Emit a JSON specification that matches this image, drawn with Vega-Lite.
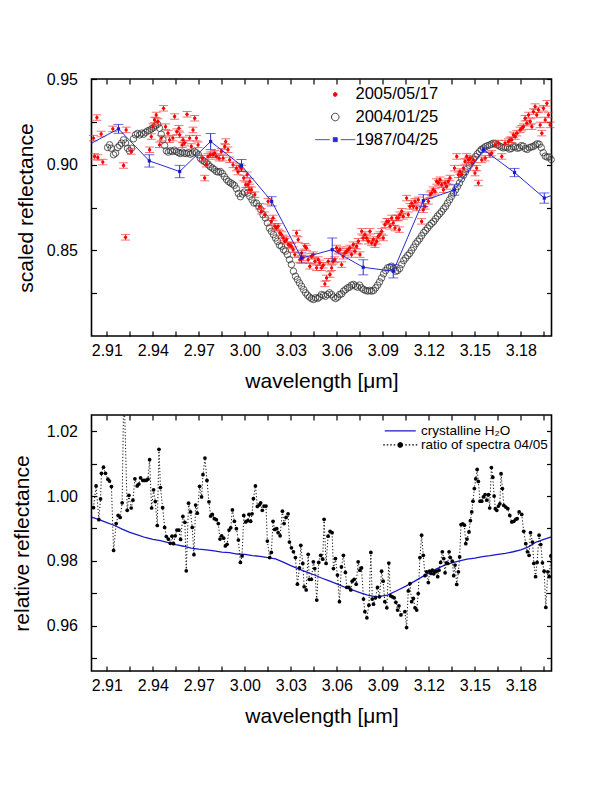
{
"$schema": "https://vega.github.io/schema/vega-lite/v6.json",
"background": "white",
"padding": {"left": 10.5, "top": 70, "right": 5, "bottom": 5},
"config": {
 "font": "Liberation Sans",
 "view": {"stroke": "black", "strokeWidth": 1.6},
 "axis": {"domain": false, "grid": false, "tickColor": "black", "tickSize": -5, "tickWidth": 1.2, "labelColor": "black", "labelFont": "Liberation Sans", "labelFontSize": 16, "titleFont": "Liberation Sans", "titleFontSize": 21, "titleFontWeight": "normal", "titleColor": "black", "labelOverlap": false, "labelFlush": false},
 "legend": {"labelFont": "Liberation Sans", "labelColor": "black"}
},
"datasets": {
 "gray": [
{"wl":2.9105,"r":0.9100},{"wl":2.9118,"r":0.9116},{"wl":2.9128,"r":0.9096},{"wl":2.9144,"r":0.9058},{"wl":2.9157,"r":0.9067},{"wl":2.9170,"r":0.9100},{"wl":2.9183,"r":0.9112},{"wl":2.9196,"r":0.9126},{"wl":2.9209,"r":0.9145},{"wl":2.9222,"r":0.9126},{"wl":2.9235,"r":0.9096},{"wl":2.9248,"r":0.9081},{"wl":2.9261,"r":0.9096},{"wl":2.9274,"r":0.9151},{"wl":2.9287,"r":0.9174},{"wl":2.9300,"r":0.9182},{"wl":2.9314,"r":0.9174},{"wl":2.9327,"r":0.9184},{"wl":2.9340,"r":0.9178},{"wl":2.9353,"r":0.9189},{"wl":2.9366,"r":0.9197},{"wl":2.9379,"r":0.9201},{"wl":2.9392,"r":0.9209},{"wl":2.9405,"r":0.9217},{"wl":2.9418,"r":0.9228},{"wl":2.9431,"r":0.9236},{"wl":2.9444,"r":0.9213},{"wl":2.9455,"r":0.9178},{"wl":2.9466,"r":0.9145},{"wl":2.9477,"r":0.9112},{"wl":2.9488,"r":0.9081},{"wl":2.9501,"r":0.9073},{"wl":2.9514,"r":0.9081},{"wl":2.9527,"r":0.9077},{"wl":2.9540,"r":0.9085},{"wl":2.9553,"r":0.9077},{"wl":2.9566,"r":0.9071},{"wl":2.9579,"r":0.9065},{"wl":2.9592,"r":0.9073},{"wl":2.9605,"r":0.9067},{"wl":2.9618,"r":0.9065},{"wl":2.9631,"r":0.9069},{"wl":2.9644,"r":0.9061},{"wl":2.9658,"r":0.9067},{"wl":2.9671,"r":0.9077},{"wl":2.9684,"r":0.9069},{"wl":2.9697,"r":0.9058},{"wl":2.9710,"r":0.9038},{"wl":2.9723,"r":0.9026},{"wl":2.9736,"r":0.9019},{"wl":2.9749,"r":0.9011},{"wl":2.9762,"r":0.8999},{"wl":2.9775,"r":0.8988},{"wl":2.9788,"r":0.8980},{"wl":2.9801,"r":0.8972},{"wl":2.9814,"r":0.8960},{"wl":2.9827,"r":0.8957},{"wl":2.9840,"r":0.8960},{"wl":2.9853,"r":0.8949},{"wl":2.9866,"r":0.8931},{"wl":2.9880,"r":0.8914},{"wl":2.9893,"r":0.8902},{"wl":2.9906,"r":0.8894},{"wl":2.9919,"r":0.8887},{"wl":2.9932,"r":0.8879},{"wl":2.9945,"r":0.8860},{"wl":2.9958,"r":0.8832},{"wl":2.9971,"r":0.8813},{"wl":2.9984,"r":0.8829},{"wl":2.9997,"r":0.8840},
{"wl":3.0017,"r":0.8834},{"wl":3.0032,"r":0.8815},{"wl":3.0047,"r":0.8795},{"wl":3.0060,"r":0.8776},{"wl":3.0075,"r":0.8776},{"wl":3.0091,"r":0.8757},{"wl":3.0104,"r":0.8737},{"wl":3.0119,"r":0.8708},{"wl":3.0134,"r":0.8689},{"wl":3.0147,"r":0.8660},{"wl":3.0160,"r":0.8630},{"wl":3.0173,"r":0.8611},{"wl":3.0187,"r":0.8592},{"wl":3.0200,"r":0.8572},{"wl":3.0213,"r":0.8553},{"wl":3.0226,"r":0.8530},{"wl":3.0239,"r":0.8524},{"wl":3.0252,"r":0.8504},{"wl":3.0265,"r":0.8495},{"wl":3.0278,"r":0.8475},{"wl":3.0291,"r":0.8446},{"wl":3.0304,"r":0.8417},{"wl":3.0317,"r":0.8378},{"wl":3.0330,"r":0.8349},{"wl":3.0343,"r":0.8330},{"wl":3.0356,"r":0.8310},{"wl":3.0370,"r":0.8291},{"wl":3.0383,"r":0.8271},{"wl":3.0396,"r":0.8252},{"wl":3.0409,"r":0.8238},{"wl":3.0422,"r":0.8227},{"wl":3.0435,"r":0.8219},{"wl":3.0448,"r":0.8213},{"wl":3.0461,"r":0.8223},{"wl":3.0474,"r":0.8219},{"wl":3.0487,"r":0.8227},{"wl":3.0500,"r":0.8242},{"wl":3.0513,"r":0.8238},{"wl":3.0526,"r":0.8232},{"wl":3.0539,"r":0.8242},{"wl":3.0552,"r":0.8252},{"wl":3.0566,"r":0.8242},{"wl":3.0579,"r":0.8227},{"wl":3.0592,"r":0.8219},{"wl":3.0605,"r":0.8227},{"wl":3.0618,"r":0.8242},{"wl":3.0631,"r":0.8246},{"wl":3.0644,"r":0.8262},{"wl":3.0657,"r":0.8271},{"wl":3.0670,"r":0.8281},{"wl":3.0683,"r":0.8285},{"wl":3.0696,"r":0.8297},{"wl":3.0709,"r":0.8301},{"wl":3.0722,"r":0.8291},{"wl":3.0735,"r":0.8285},{"wl":3.0748,"r":0.8297},{"wl":3.0761,"r":0.8281},{"wl":3.0775,"r":0.8271},{"wl":3.0788,"r":0.8266},{"wl":3.0801,"r":0.8262},{"wl":3.0814,"r":0.8266},{"wl":3.0827,"r":0.8262},{"wl":3.0840,"r":0.8266},{"wl":3.0853,"r":0.8281},{"wl":3.0866,"r":0.8297},{"wl":3.0879,"r":0.8316},{"wl":3.0892,"r":0.8339},{"wl":3.0905,"r":0.8363},{"wl":3.0918,"r":0.8382},{"wl":3.0931,"r":0.8398},{"wl":3.0944,"r":0.8402},{"wl":3.0957,"r":0.8407},{"wl":3.0970,"r":0.8394},{"wl":3.0983,"r":0.8378},{"wl":3.0996,"r":0.8382},{"wl":3.1010,"r":0.8394},
{"wl":3.1023,"r":0.8418},{"wl":3.1036,"r":0.8440},{"wl":3.1049,"r":0.8455},{"wl":3.1062,"r":0.8470},{"wl":3.1075,"r":0.8482},{"wl":3.1088,"r":0.8500},{"wl":3.1101,"r":0.8518},{"wl":3.1114,"r":0.8538},{"wl":3.1127,"r":0.8553},{"wl":3.1140,"r":0.8567},{"wl":3.1153,"r":0.8585},{"wl":3.1166,"r":0.8603},{"wl":3.1179,"r":0.8616},{"wl":3.1192,"r":0.8630},{"wl":3.1205,"r":0.8645},{"wl":3.1218,"r":0.8657},{"wl":3.1231,"r":0.8668},{"wl":3.1244,"r":0.8684},{"wl":3.1257,"r":0.8700},{"wl":3.1270,"r":0.8713},{"wl":3.1283,"r":0.8726},{"wl":3.1296,"r":0.8742},{"wl":3.1309,"r":0.8756},{"wl":3.1322,"r":0.8776},{"wl":3.1335,"r":0.8795},{"wl":3.1348,"r":0.8815},{"wl":3.1361,"r":0.8834},{"wl":3.1374,"r":0.8853},{"wl":3.1387,"r":0.8872},{"wl":3.1400,"r":0.8893},{"wl":3.1413,"r":0.8917},{"wl":3.1426,"r":0.8938},{"wl":3.1439,"r":0.8957},{"wl":3.1452,"r":0.8977},{"wl":3.1465,"r":0.8996},{"wl":3.1478,"r":0.9015},{"wl":3.1491,"r":0.9031},{"wl":3.1504,"r":0.9047},{"wl":3.1517,"r":0.9063},{"wl":3.1530,"r":0.9076},{"wl":3.1543,"r":0.9088},{"wl":3.1556,"r":0.9097},{"wl":3.1569,"r":0.9105},{"wl":3.1582,"r":0.9110},{"wl":3.1595,"r":0.9114},{"wl":3.1608,"r":0.9120},{"wl":3.1621,"r":0.9125},{"wl":3.1634,"r":0.9124},{"wl":3.1647,"r":0.9116},{"wl":3.1660,"r":0.9109},{"wl":3.1673,"r":0.9103},{"wl":3.1686,"r":0.9098},{"wl":3.1699,"r":0.9102},{"wl":3.1712,"r":0.9100},{"wl":3.1725,"r":0.9091},{"wl":3.1738,"r":0.9094},{"wl":3.1751,"r":0.9104},{"wl":3.1764,"r":0.9104},{"wl":3.1777,"r":0.9096},{"wl":3.1790,"r":0.9099},{"wl":3.1803,"r":0.9111},{"wl":3.1816,"r":0.9108},{"wl":3.1829,"r":0.9094},{"wl":3.1842,"r":0.9089},{"wl":3.1855,"r":0.9099},{"wl":3.1868,"r":0.9103},{"wl":3.1881,"r":0.9106},{"wl":3.1894,"r":0.9114},{"wl":3.1907,"r":0.9122},{"wl":3.1920,"r":0.9119},{"wl":3.1933,"r":0.9100},{"wl":3.1946,"r":0.9070},{"wl":3.1959,"r":0.9050},{"wl":3.1972,"r":0.9044},{"wl":3.1985,"r":0.9045},{"wl":3.1998,"r":0.9030}
 ],
 "red": [
{"wl":2.9013,"r":0.9155,"e":0.0016},{"wl":2.9020,"r":0.9048,"e":0.0016},{"wl":2.9035,"r":0.9275,"e":0.0016},{"wl":2.9041,"r":0.9042,"e":0.0016},{"wl":2.9063,"r":0.9179,"e":0.0016},{"wl":2.9074,"r":0.9015,"e":0.0016},{"wl":2.9139,"r":0.9209,"e":0.0016},{"wl":2.9209,"r":0.8995,"e":0.0016},{"wl":2.9222,"r":0.8576,"e":0.0016},{"wl":2.9226,"r":0.9203,"e":0.0016},{"wl":2.9259,"r":0.9077,"e":0.0016},{"wl":2.9379,"r":0.9087,"e":0.0016},{"wl":2.9390,"r":0.9164,"e":0.0016},{"wl":2.9401,"r":0.9222,"e":0.0016},{"wl":2.9411,"r":0.9261,"e":0.0016},{"wl":2.9422,"r":0.9290,"e":0.0016},{"wl":2.9433,"r":0.9252,"e":0.0016},{"wl":2.9444,"r":0.9116,"e":0.0016},{"wl":2.9455,"r":0.9155,"e":0.0016},{"wl":2.9470,"r":0.9329,"e":0.0016},{"wl":2.9483,"r":0.9222,"e":0.0016},{"wl":2.9499,"r":0.9184,"e":0.0016},{"wl":2.9509,"r":0.9145,"e":0.0016},{"wl":2.9531,"r":0.9155,"e":0.0016},{"wl":2.9542,"r":0.9281,"e":0.0016},{"wl":2.9557,"r":0.9193,"e":0.0016},{"wl":2.9570,"r":0.9213,"e":0.0016},{"wl":2.9575,"r":0.9174,"e":0.0016},{"wl":2.9592,"r":0.9116,"e":0.0016},{"wl":2.9597,"r":0.9145,"e":0.0016},{"wl":2.9607,"r":0.9126,"e":0.0016},{"wl":2.9623,"r":0.9294,"e":0.0016},{"wl":2.9640,"r":0.9155,"e":0.0016},{"wl":2.9651,"r":0.9106,"e":0.0016},{"wl":2.9662,"r":0.9203,"e":0.0016},{"wl":2.9673,"r":0.9271,"e":0.0016},{"wl":2.9684,"r":0.9155,"e":0.0016},{"wl":2.9695,"r":0.9116,"e":0.0016},{"wl":2.9723,"r":0.9038,"e":0.0016},{"wl":2.9738,"r":0.8922,"e":0.0016},{"wl":2.9749,"r":0.9003,"e":0.0016},{"wl":2.9760,"r":0.9048,"e":0.0016},{"wl":2.9775,"r":0.9058,"e":0.0016},{"wl":2.9792,"r":0.9058,"e":0.0016},{"wl":2.9803,"r":0.9067,"e":0.0016},{"wl":2.9814,"r":0.9048,"e":0.0016},{"wl":2.9832,"r":0.9038,"e":0.0016},{"wl":2.9847,"r":0.9077,"e":0.0016},{"wl":2.9858,"r":0.9038,"e":0.0016},{"wl":2.9869,"r":0.9106,"e":0.0016},{"wl":2.9875,"r":0.9135,"e":0.0016},{"wl":2.9890,"r":0.9087,"e":0.0016},{"wl":2.9901,"r":0.9028,"e":0.0016},{"wl":2.9923,"r":0.8999,"e":0.0016},{"wl":2.9945,"r":0.8980,"e":0.0016},{"wl":2.9956,"r":0.8957,"e":0.0016},{"wl":2.9967,"r":0.8990,"e":0.0016},{"wl":2.9978,"r":0.8980,"e":0.0016},{"wl":2.9993,"r":0.8922,"e":0.0016},{"wl":3.0006,"r":0.8883,"e":0.0016},{"wl":3.0015,"r":0.8941,"e":0.0016},{"wl":3.0028,"r":0.8854,"e":0.0016},
{"wl":3.0021,"r":0.8883,"e":0.0016},{"wl":3.0032,"r":0.8902,"e":0.0016},{"wl":3.0043,"r":0.8854,"e":0.0016},{"wl":3.0065,"r":0.8825,"e":0.0016},{"wl":3.0097,"r":0.8757,"e":0.0016},{"wl":3.0108,"r":0.8728,"e":0.0016},{"wl":3.0130,"r":0.8708,"e":0.0016},{"wl":3.0152,"r":0.8786,"e":0.0016},{"wl":3.0173,"r":0.8669,"e":0.0016},{"wl":3.0184,"r":0.8689,"e":0.0016},{"wl":3.0195,"r":0.8640,"e":0.0016},{"wl":3.0206,"r":0.8630,"e":0.0016},{"wl":3.0217,"r":0.8640,"e":0.0016},{"wl":3.0228,"r":0.8601,"e":0.0016},{"wl":3.0239,"r":0.8592,"e":0.0016},{"wl":3.0250,"r":0.8572,"e":0.0016},{"wl":3.0261,"r":0.8553,"e":0.0016},{"wl":3.0272,"r":0.8563,"e":0.0016},{"wl":3.0283,"r":0.8533,"e":0.0016},{"wl":3.0293,"r":0.8530,"e":0.0016},{"wl":3.0304,"r":0.8524,"e":0.0016},{"wl":3.0315,"r":0.8504,"e":0.0016},{"wl":3.0326,"r":0.8475,"e":0.0016},{"wl":3.0337,"r":0.8601,"e":0.0016},{"wl":3.0348,"r":0.8563,"e":0.0016},{"wl":3.0359,"r":0.8446,"e":0.0016},{"wl":3.0370,"r":0.8485,"e":0.0016},{"wl":3.0380,"r":0.8456,"e":0.0016},{"wl":3.0391,"r":0.8524,"e":0.0016},{"wl":3.0402,"r":0.8514,"e":0.0016},{"wl":3.0413,"r":0.8446,"e":0.0016},{"wl":3.0424,"r":0.8407,"e":0.0016},{"wl":3.0435,"r":0.8465,"e":0.0016},{"wl":3.0446,"r":0.8475,"e":0.0016},{"wl":3.0457,"r":0.8436,"e":0.0016},{"wl":3.0468,"r":0.8398,"e":0.0016},{"wl":3.0479,"r":0.8446,"e":0.0016},{"wl":3.0489,"r":0.8427,"e":0.0016},{"wl":3.0500,"r":0.8398,"e":0.0016},{"wl":3.0511,"r":0.8413,"e":0.0016},{"wl":3.0522,"r":0.8304,"e":0.0016},{"wl":3.0533,"r":0.8339,"e":0.0016},{"wl":3.0544,"r":0.8436,"e":0.0016},{"wl":3.0555,"r":0.8359,"e":0.0016},{"wl":3.0566,"r":0.8398,"e":0.0016},{"wl":3.0576,"r":0.8436,"e":0.0016},{"wl":3.0587,"r":0.8446,"e":0.0016},{"wl":3.0598,"r":0.8514,"e":0.0016},{"wl":3.0609,"r":0.8495,"e":0.0016},{"wl":3.0620,"r":0.8504,"e":0.0016},{"wl":3.0631,"r":0.8417,"e":0.0016},{"wl":3.0642,"r":0.8465,"e":0.0016},{"wl":3.0653,"r":0.8485,"e":0.0016},{"wl":3.0663,"r":0.8495,"e":0.0016},{"wl":3.0674,"r":0.8504,"e":0.0016},{"wl":3.0685,"r":0.8514,"e":0.0016},{"wl":3.0696,"r":0.8475,"e":0.0016},{"wl":3.0707,"r":0.8533,"e":0.0016},{"wl":3.0718,"r":0.8495,"e":0.0016},{"wl":3.0729,"r":0.8524,"e":0.0016},{"wl":3.0740,"r":0.8553,"e":0.0016},{"wl":3.0751,"r":0.8475,"e":0.0016},{"wl":3.0762,"r":0.8611,"e":0.0016},{"wl":3.0772,"r":0.8572,"e":0.0016},{"wl":3.0783,"r":0.8592,"e":0.0016},{"wl":3.0794,"r":0.8572,"e":0.0016},{"wl":3.0805,"r":0.8553,"e":0.0016},{"wl":3.0816,"r":0.8611,"e":0.0016},{"wl":3.0827,"r":0.8543,"e":0.0016},{"wl":3.0838,"r":0.8563,"e":0.0016},{"wl":3.0849,"r":0.8533,"e":0.0016},{"wl":3.0860,"r":0.8553,"e":0.0016},{"wl":3.0870,"r":0.8582,"e":0.0016},{"wl":3.0881,"r":0.8592,"e":0.0016},{"wl":3.0892,"r":0.8611,"e":0.0016},{"wl":3.0903,"r":0.8572,"e":0.0016},{"wl":3.0914,"r":0.8650,"e":0.0016},{"wl":3.0925,"r":0.8669,"e":0.0016},{"wl":3.0936,"r":0.8669,"e":0.0016},{"wl":3.0947,"r":0.8640,"e":0.0016},{"wl":3.0958,"r":0.8689,"e":0.0016},{"wl":3.0968,"r":0.8660,"e":0.0016},{"wl":3.0979,"r":0.8630,"e":0.0016},{"wl":3.0990,"r":0.8689,"e":0.0016},{"wl":3.1001,"r":0.8689,"e":0.0016},{"wl":3.1012,"r":0.8708,"e":0.0016},{"wl":3.1023,"r":0.8728,"e":0.0016},
{"wl":3.1007,"r":0.8621,"e":0.0016},{"wl":3.1033,"r":0.8698,"e":0.0016},{"wl":3.1055,"r":0.8805,"e":0.0016},{"wl":3.1066,"r":0.8708,"e":0.0016},{"wl":3.1077,"r":0.8757,"e":0.0016},{"wl":3.1088,"r":0.8776,"e":0.0016},{"wl":3.1099,"r":0.8757,"e":0.0016},{"wl":3.1110,"r":0.8786,"e":0.0016},{"wl":3.1121,"r":0.8747,"e":0.0016},{"wl":3.1131,"r":0.8795,"e":0.0016},{"wl":3.1153,"r":0.8669,"e":0.0016},{"wl":3.1164,"r":0.8737,"e":0.0016},{"wl":3.1175,"r":0.8757,"e":0.0016},{"wl":3.1197,"r":0.8786,"e":0.0016},{"wl":3.1208,"r":0.8825,"e":0.0016},{"wl":3.1218,"r":0.8834,"e":0.0016},{"wl":3.1229,"r":0.8854,"e":0.0016},{"wl":3.1240,"r":0.8844,"e":0.0016},{"wl":3.1251,"r":0.8902,"e":0.0016},{"wl":3.1262,"r":0.8893,"e":0.0016},{"wl":3.1273,"r":0.8912,"e":0.0016},{"wl":3.1284,"r":0.8883,"e":0.0016},{"wl":3.1295,"r":0.8854,"e":0.0016},{"wl":3.1306,"r":0.8893,"e":0.0016},{"wl":3.1316,"r":0.8873,"e":0.0016},{"wl":3.1327,"r":0.8902,"e":0.0016},{"wl":3.1338,"r":0.8922,"e":0.0016},{"wl":3.1367,"r":0.8980,"e":0.0016},{"wl":3.1382,"r":0.9048,"e":0.0016},{"wl":3.1393,"r":0.8941,"e":0.0016},{"wl":3.1403,"r":0.8960,"e":0.0016},{"wl":3.1414,"r":0.8941,"e":0.0016},{"wl":3.1425,"r":0.8980,"e":0.0016},{"wl":3.1436,"r":0.9019,"e":0.0016},{"wl":3.1447,"r":0.9048,"e":0.0016},{"wl":3.1458,"r":0.9028,"e":0.0016},{"wl":3.1469,"r":0.9038,"e":0.0016},{"wl":3.1480,"r":0.9009,"e":0.0016},{"wl":3.1491,"r":0.9028,"e":0.0016},{"wl":3.1501,"r":0.8951,"e":0.0016},{"wl":3.1512,"r":0.8980,"e":0.0016},{"wl":3.1523,"r":0.8893,"e":0.0016},{"wl":3.1545,"r":0.9028,"e":0.0016},{"wl":3.1567,"r":0.9038,"e":0.0016},{"wl":3.1599,"r":0.9058,"e":0.0016},{"wl":3.1610,"r":0.9067,"e":0.0016},{"wl":3.1632,"r":0.9116,"e":0.0016},{"wl":3.1654,"r":0.9126,"e":0.0016},{"wl":3.1676,"r":0.9048,"e":0.0016},{"wl":3.1697,"r":0.9126,"e":0.0016},{"wl":3.1719,"r":0.9135,"e":0.0016},{"wl":3.1730,"r":0.9145,"e":0.0016},{"wl":3.1741,"r":0.9145,"e":0.0016},{"wl":3.1752,"r":0.9174,"e":0.0016},{"wl":3.1763,"r":0.9164,"e":0.0016},{"wl":3.1774,"r":0.9184,"e":0.0016},{"wl":3.1795,"r":0.9203,"e":0.0016},{"wl":3.1806,"r":0.9213,"e":0.0016},{"wl":3.1817,"r":0.9222,"e":0.0016},{"wl":3.1828,"r":0.9271,"e":0.0016},{"wl":3.1839,"r":0.9242,"e":0.0016},{"wl":3.1850,"r":0.9290,"e":0.0016},{"wl":3.1861,"r":0.9252,"e":0.0016},{"wl":3.1872,"r":0.9222,"e":0.0016},{"wl":3.1882,"r":0.9310,"e":0.0016},{"wl":3.1893,"r":0.9339,"e":0.0016},{"wl":3.1904,"r":0.9290,"e":0.0016},{"wl":3.1915,"r":0.9320,"e":0.0016},{"wl":3.1926,"r":0.9232,"e":0.0016},{"wl":3.1937,"r":0.9184,"e":0.0016},{"wl":3.1948,"r":0.9329,"e":0.0016},{"wl":3.1959,"r":0.9261,"e":0.0016},{"wl":3.1970,"r":0.9358,"e":0.0016},{"wl":3.1980,"r":0.9290,"e":0.0016},{"wl":3.1991,"r":0.9232,"e":0.0016}
 ],
 "blue": [
{"wl":2.8978,"r":0.9115,"e":0.002},{"wl":2.9176,"r":0.9209,"e":0.0026},{"wl":2.9377,"r":0.9022,"e":0.0036},{"wl":2.9575,"r":0.8960,"e":0.0036},{"wl":2.9777,"r":0.9135,"e":0.0047},{"wl":2.9978,"r":0.8995,"e":0.0035},{"wl":3.0175,"r":0.8786,"e":0.0027},{"wl":3.0370,"r":0.8455,"e":0.003},{"wl":3.0570,"r":0.8504,"e":0.0068},{"wl":3.0772,"r":0.8401,"e":0.0044},{"wl":3.0968,"r":0.8378,"e":0.0039},{"wl":3.1164,"r":0.8790,"e":0.0035},{"wl":3.1366,"r":0.8852,"e":0.003},{"wl":3.1557,"r":0.9087,"e":0.0015},{"wl":3.1759,"r":0.8954,"e":0.0024},{"wl":3.1953,"r":0.8805,"e":0.003},{"wl":3.2151,"r":0.8868,"e":0.002}
 ],
 "ratio": [
{"wl":2.9013,"r":0.9964},{"wl":2.9030,"r":1.0031},{"wl":2.9048,"r":0.9927},{"wl":2.9059,"r":0.9991},{"wl":2.9065,"r":1.0070},{"wl":2.9078,"r":1.0089},{"wl":2.9091,"r":1.0070},{"wl":2.9107,"r":1.0052},{"wl":2.9117,"r":1.0046},{"wl":2.9130,"r":1.0029},{"wl":2.9144,"r":0.9832},{"wl":2.9161,"r":0.9915},{"wl":2.9174,"r":0.9940},{"wl":2.9187,"r":0.9934},{"wl":2.9200,"r":0.9979},{"wl":2.9211,"r":1.0350},{"wl":2.9233,"r":0.9956},{"wl":2.9244,"r":1.0002},{"wl":2.9259,"r":0.9963},{"wl":2.9270,"r":0.9987},{"wl":2.9283,"r":1.0053},{"wl":2.9298,"r":1.0031},{"wl":2.9309,"r":1.0037},{"wl":2.9320,"r":1.0056},{"wl":2.9335,"r":1.0048},{"wl":2.9346,"r":1.0048},{"wl":2.9357,"r":1.0048},{"wl":2.9368,"r":1.0052},{"wl":2.9379,"r":1.0112},{"wl":2.9392,"r":0.9963},{"wl":2.9405,"r":1.0019},{"wl":2.9416,"r":0.9983},{"wl":2.9429,"r":0.9909},{"wl":2.9440,"r":1.0144},{"wl":2.9450,"r":1.0026},{"wl":2.9464,"r":0.9964},{"wl":2.9477,"r":0.9903},{"wl":2.9488,"r":0.9875},{"wl":2.9501,"r":0.9867},{"wl":2.9514,"r":0.9854},{"wl":2.9525,"r":0.9876},{"wl":2.9535,"r":0.9853},{"wl":2.9546,"r":0.9877},{"wl":2.9557,"r":0.9895},{"wl":2.9570,"r":0.9895},{"wl":2.9581,"r":0.9866},{"wl":2.9596,"r":0.9937},{"wl":2.9609,"r":0.9919},{"wl":2.9618,"r":0.9769},{"wl":2.9633,"r":0.9978},{"wl":2.9646,"r":0.9951},{"wl":2.9657,"r":0.9903},{"wl":2.9668,"r":0.9819},{"wl":2.9679,"r":0.9972},{"wl":2.9690,"r":0.9947},{"wl":2.9705,"r":1.0030},{"wl":2.9718,"r":0.9997},{"wl":2.9727,"r":1.0066},{"wl":2.9740,"r":1.0117},{"wl":2.9753,"r":1.0048},{"wl":2.9766,"r":0.9982},{"wl":2.9777,"r":0.9938},{"wl":2.9788,"r":0.9943},{"wl":2.9801,"r":0.9930},{"wl":2.9814,"r":0.9927},{"wl":2.9827,"r":0.9915},{"wl":2.9838,"r":0.9867},{"wl":2.9849,"r":0.9877},{"wl":2.9862,"r":0.9870},{"wl":2.9873,"r":0.9846},{"wl":2.9884,"r":0.9851},{"wl":2.9897,"r":0.9895},{"wl":2.9908,"r":0.9902},{"wl":2.9919,"r":0.9957},{"wl":2.9932,"r":0.9922},{"wl":2.9945,"r":0.9899},{"wl":2.9958,"r":0.9864},{"wl":2.9971,"r":0.9795},{"wl":2.9982,"r":0.9815},{"wl":2.9993,"r":0.9940},{"wl":3.0006,"r":0.9920},{"wl":3.0019,"r":0.9924},{"wl":3.0027,"r":0.9943},
{"wl":3.0038,"r":0.9922},{"wl":3.0047,"r":0.9945},{"wl":3.0056,"r":0.9992},{"wl":3.0069,"r":1.0031},{"wl":3.0082,"r":0.9968},{"wl":3.0095,"r":0.9973},{"wl":3.0103,"r":0.9979},{"wl":3.0114,"r":0.9956},{"wl":3.0125,"r":0.9969},{"wl":3.0138,"r":0.9969},{"wl":3.0147,"r":0.9861},{"wl":3.0162,"r":0.9810},{"wl":3.0173,"r":0.9826},{"wl":3.0184,"r":0.9922},{"wl":3.0195,"r":0.9897},{"wl":3.0208,"r":0.9899},{"wl":3.0217,"r":0.9887},{"wl":3.0230,"r":0.9877},{"wl":3.0245,"r":0.9953},{"wl":3.0256,"r":0.9915},{"wl":3.0269,"r":0.9934},{"wl":3.0282,"r":0.9945},{"wl":3.0291,"r":0.9858},{"wl":3.0304,"r":0.9840},{"wl":3.0317,"r":0.9828},{"wl":3.0330,"r":0.9810},{"wl":3.0343,"r":0.9728},{"wl":3.0356,"r":0.9778},{"wl":3.0365,"r":0.9848},{"wl":3.0378,"r":0.9792},{"wl":3.0387,"r":0.9720},{"wl":3.0400,"r":0.9710},{"wl":3.0413,"r":0.9820},{"wl":3.0421,"r":0.9743},{"wl":3.0434,"r":0.9743},{"wl":3.0447,"r":0.9797},{"wl":3.0456,"r":0.9776},{"wl":3.0469,"r":0.9679},{"wl":3.0482,"r":0.9795},{"wl":3.0495,"r":0.9817},{"wl":3.0508,"r":0.9805},{"wl":3.0517,"r":0.9928},{"wl":3.0530,"r":0.9792},{"wl":3.0543,"r":0.9876},{"wl":3.0556,"r":0.9891},{"wl":3.0569,"r":0.9887},{"wl":3.0578,"r":0.9776},{"wl":3.0591,"r":0.9807},{"wl":3.0604,"r":0.9756},{"wl":3.0617,"r":0.9674},{"wl":3.0630,"r":0.9781},{"wl":3.0643,"r":0.9817},{"wl":3.0656,"r":0.9764},{"wl":3.0665,"r":0.9718},{"wl":3.0678,"r":0.9718},{"wl":3.0691,"r":0.9710},{"wl":3.0700,"r":0.9737},{"wl":3.0713,"r":0.9743},{"wl":3.0726,"r":0.9728},{"wl":3.0739,"r":0.9797},{"wl":3.0750,"r":0.9771},{"wl":3.0761,"r":0.9778},{"wl":3.0774,"r":0.9682},{"wl":3.0783,"r":0.9643},{"wl":3.0796,"r":0.9624},{"wl":3.0809,"r":0.9663},{"wl":3.0822,"r":0.9826},{"wl":3.0831,"r":0.9682},{"wl":3.0839,"r":0.9666},{"wl":3.0852,"r":0.9686},{"wl":3.0865,"r":0.9718},{"wl":3.0878,"r":0.9689},{"wl":3.0892,"r":0.9768},{"wl":3.0902,"r":0.9737},{"wl":3.0913,"r":0.9674},{"wl":3.0926,"r":0.9655},{"wl":3.0939,"r":0.9793},{"wl":3.0950,"r":0.9692},{"wl":3.0963,"r":0.9689},{"wl":3.0974,"r":0.9686},{"wl":3.0985,"r":0.9672},{"wl":3.0996,"r":0.9648},{"wl":3.1005,"r":0.9661},{"wl":3.1018,"r":0.9633},
{"wl":3.1044,"r":0.9643},{"wl":3.1055,"r":0.9594},{"wl":3.1066,"r":0.9707},{"wl":3.1077,"r":0.9730},{"wl":3.1088,"r":0.9674},{"wl":3.1099,"r":0.9684},{"wl":3.1110,"r":0.9655},{"wl":3.1121,"r":0.9648},{"wl":3.1131,"r":0.9699},{"wl":3.1142,"r":0.9810},{"wl":3.1153,"r":0.9879},{"wl":3.1164,"r":0.9817},{"wl":3.1175,"r":0.9754},{"wl":3.1186,"r":0.9766},{"wl":3.1197,"r":0.9733},{"wl":3.1205,"r":0.9768},{"wl":3.1214,"r":0.9761},{"wl":3.1223,"r":0.9771},{"wl":3.1232,"r":0.9760},{"wl":3.1240,"r":0.9766},{"wl":3.1249,"r":0.9768},{"wl":3.1258,"r":0.9751},{"wl":3.1266,"r":0.9771},{"wl":3.1277,"r":0.9795},{"wl":3.1288,"r":0.9828},{"wl":3.1297,"r":0.9807},{"wl":3.1306,"r":0.9763},{"wl":3.1314,"r":0.9794},{"wl":3.1323,"r":0.9792},{"wl":3.1332,"r":0.9828},{"wl":3.1340,"r":0.9810},{"wl":3.1353,"r":0.9799},{"wl":3.1362,"r":0.9754},{"wl":3.1371,"r":0.9787},{"wl":3.1382,"r":0.9727},{"wl":3.1393,"r":0.9766},{"wl":3.1401,"r":0.9812},{"wl":3.1410,"r":0.9912},{"wl":3.1421,"r":0.9914},{"wl":3.1432,"r":0.9910},{"wl":3.1441,"r":0.9853},{"wl":3.1449,"r":0.9867},{"wl":3.1462,"r":0.9889},{"wl":3.1471,"r":0.9924},{"wl":3.1480,"r":0.9951},{"wl":3.1488,"r":0.9984},{"wl":3.1497,"r":1.0023},{"wl":3.1506,"r":1.0053},{"wl":3.1515,"r":1.0082},{"wl":3.1523,"r":1.0045},{"wl":3.1534,"r":0.9984},{"wl":3.1545,"r":0.9984},{"wl":3.1556,"r":0.9997},{"wl":3.1567,"r":1.0004},{"wl":3.1578,"r":0.9987},{"wl":3.1589,"r":1.0004},{"wl":3.1597,"r":0.9963},{"wl":3.1608,"r":1.0088},{"wl":3.1617,"r":1.0058},{"wl":3.1626,"r":1.0000},{"wl":3.1634,"r":0.9961},{"wl":3.1643,"r":0.9956},{"wl":3.1654,"r":0.9969},{"wl":3.1663,"r":0.9976},{"wl":3.1671,"r":1.0069},{"wl":3.1680,"r":1.0023},{"wl":3.1689,"r":0.9971},{"wl":3.1702,"r":0.9966},{"wl":3.1715,"r":0.9961},{"wl":3.1728,"r":0.9940},{"wl":3.1741,"r":0.9920},{"wl":3.1754,"r":0.9922},{"wl":3.1767,"r":0.9928},{"wl":3.1776,"r":0.9930},{"wl":3.1789,"r":0.9951},{"wl":3.1806,"r":0.9943},{"wl":3.1819,"r":0.9891},{"wl":3.1832,"r":0.9853},{"wl":3.1843,"r":0.9828},{"wl":3.1854,"r":0.9817},{"wl":3.1863,"r":0.9887},{"wl":3.1876,"r":0.9858},{"wl":3.1885,"r":0.9792},{"wl":3.1896,"r":0.9751},{"wl":3.1906,"r":0.9795},{"wl":3.1919,"r":0.9879},{"wl":3.1930,"r":0.9850},{"wl":3.1941,"r":0.9794},{"wl":3.1952,"r":0.9768},{"wl":3.1963,"r":0.9656},{"wl":3.1976,"r":0.9766},{"wl":3.1985,"r":0.9751},{"wl":3.1996,"r":0.9815}
 ],
 "h2o": [
{"wl":2.9000,"r":0.9935},{"wl":2.9050,"r":0.9927},{"wl":2.9100,"r":0.9918},{"wl":2.9150,"r":0.9909},{"wl":2.9200,"r":0.9898},{"wl":2.9250,"r":0.9888},{"wl":2.9300,"r":0.9880},{"wl":2.9350,"r":0.9872},{"wl":2.9400,"r":0.9866},{"wl":2.9450,"r":0.9862},{"wl":2.9500,"r":0.9856},{"wl":2.9550,"r":0.9850},{"wl":2.9600,"r":0.9845},{"wl":2.9650,"r":0.9839},{"wl":2.9700,"r":0.9836},{"wl":2.9750,"r":0.9834},{"wl":2.9800,"r":0.9831},{"wl":2.9850,"r":0.9827},{"wl":2.9900,"r":0.9825},{"wl":2.9950,"r":0.9821},{"wl":3.0000,"r":0.9820},{"wl":3.0050,"r":0.9816},{"wl":3.0100,"r":0.9814},{"wl":3.0150,"r":0.9810},{"wl":3.0200,"r":0.9806},{"wl":3.0250,"r":0.9796},{"wl":3.0300,"r":0.9785},{"wl":3.0350,"r":0.9775},{"wl":3.0400,"r":0.9766},{"wl":3.0450,"r":0.9757},{"wl":3.0500,"r":0.9747},{"wl":3.0550,"r":0.9738},{"wl":3.0600,"r":0.9729},{"wl":3.0650,"r":0.9719},{"wl":3.0700,"r":0.9710},{"wl":3.0750,"r":0.9702},{"wl":3.0800,"r":0.9694},{"wl":3.0860,"r":0.9689},{"wl":3.0930,"r":0.9694},{"wl":3.1000,"r":0.9710},{"wl":3.1050,"r":0.9722},{"wl":3.1100,"r":0.9735},{"wl":3.1150,"r":0.9749},{"wl":3.1200,"r":0.9762},{"wl":3.1250,"r":0.9775},{"wl":3.1300,"r":0.9786},{"wl":3.1350,"r":0.9794},{"wl":3.1400,"r":0.9800},{"wl":3.1450,"r":0.9805},{"wl":3.1500,"r":0.9808},{"wl":3.1550,"r":0.9813},{"wl":3.1600,"r":0.9816},{"wl":3.1650,"r":0.9820},{"wl":3.1700,"r":0.9823},{"wl":3.1750,"r":0.9828},{"wl":3.1800,"r":0.9834},{"wl":3.1850,"r":0.9843},{"wl":3.1900,"r":0.9858},{"wl":3.1950,"r":0.9866},{"wl":3.2000,"r":0.9874}
 ]
},
"spacing": 21,
"resolve": {"scale": {"x": "independent", "y": "independent", "color": "independent"}, "legend": {"color": "independent"}},
"vconcat": [
 {
  "width": 460, "height": 257,
  "layer": [
   {
    "data": {"name": "gray"},
    "mark": {"type": "point", "filled": false, "size": 42, "strokeWidth": 0.8, "color": "#333333", "opacity": 1},
    "encoding": {
     "x": {"field": "wl", "type": "quantitative", "scale": {"domain": [2.9, 3.2], "nice": false, "zero": false},
      "axis": {"orient": "bottom", "values": [2.91,2.925,2.94,2.955,2.97,2.985,3.0,3.015,3.03,3.045,3.06,3.075,3.09,3.105,3.12,3.135,3.15,3.165,3.18,3.195], "labelExpr": "round(datum.value*1000) % 30 == 0 ? format(datum.value, '.2f') : ''", "title": "wavelength [μm]", "labelPadding": 11, "titlePadding": 12}},
     "y": {"field": "r", "type": "quantitative", "scale": {"domain": [0.8, 0.95], "nice": false, "zero": false},
      "axis": {"orient": "left", "values": [0.825,0.85,0.875,0.9,0.925,0.95], "labelExpr": "round(datum.value*1000) % 50 == 0 ? format(datum.value, '.2f') : ''", "title": "scaled reflectance", "labelPadding": 19, "titlePadding": 9.5}}
    }
   },
   {
    "data": {"name": "red"},
    "mark": {"type": "errorbar", "color": "#f03838", "thickness": 1, "ticks": {"size": 9}},
    "encoding": {
     "x": {"field": "wl", "type": "quantitative", "axis": {"orient": "top", "values": [2.91,2.925,2.94,2.955,2.97,2.985,3.0,3.015,3.03,3.045,3.06,3.075,3.09,3.105,3.12,3.135,3.15,3.165,3.18,3.195], "labels": false, "title": null}},
     "y": {"field": "r", "type": "quantitative", "axis": {"orient": "right", "values": [0.825,0.85,0.875,0.9,0.925,0.95], "labels": false, "title": null}},
     "yError": {"field": "e"}
    }
   },
   {
    "data": {"name": "red"},
    "mark": {"type": "point", "filled": true, "size": 11, "color": "#ff0000", "opacity": 1},
    "encoding": {
     "x": {"field": "wl", "type": "quantitative", "axis": null},
     "y": {"field": "r", "type": "quantitative", "axis": null}
    }
   },
   {
    "data": {"name": "blue"},
    "mark": {"type": "line", "strokeWidth": 1, "clip": true},
    "encoding": {
     "x": {"field": "wl", "type": "quantitative", "axis": null},
     "y": {"field": "r", "type": "quantitative", "axis": null},
     "color": {"datum": "1987/04/25", "type": "nominal",
      "scale": {"domain": ["2005/05/17", "2004/01/25", "1987/04/25"], "range": ["#ff0000", "#333333", "#2a2ad2"]},
      "legend": {"orient": "none", "legendX": 235.5, "legendY": 7.2, "title": null, "labelFontSize": 16.5, "symbolSize": 100, "labelOffset": 12, "rowPadding": 5.6, "padding": 0,
       "encode": {"symbols": {"update": {
        "shape": {"signal": "datum.value === '2005/05/17' ? 'M-0.38,0A0.38,0.38,0,1,1,0.38,0A0.38,0.38,0,1,1,-0.38,0Z' : datum.value === '2004/01/25' ? 'M-0.75,0A0.75,0.75,0,1,1,0.75,0A0.75,0.75,0,1,1,-0.75,0Z' : 'M-4,0H-1.1M1.1,0H4M-0.4,-0.4H0.4V0.4H-0.4Z'"},
        "fill": {"signal": "datum.value === '2005/05/17' ? '#ff0000' : datum.value === '2004/01/25' ? 'transparent' : '#2a2ad2'"},
        "stroke": {"signal": "datum.value === '2005/05/17' ? '#ff0000' : datum.value === '2004/01/25' ? '#333333' : '#2a2ad2'"},
        "strokeWidth": {"value": 1},
        "strokeDash": {"value": [1, 0]}
       }}}}}
    }
   },
   {
    "data": {"name": "blue"},
    "transform": [{"filter": "datum.wl > 2.9 && datum.wl < 3.2"}],
    "mark": {"type": "errorbar", "color": "#2a2ad2", "thickness": 1, "ticks": {"size": 10}},
    "encoding": {
     "x": {"field": "wl", "type": "quantitative", "axis": null},
     "y": {"field": "r", "type": "quantitative", "axis": null},
     "yError": {"field": "e"}
    }
   },
   {
    "data": {"name": "blue"},
    "transform": [{"filter": "datum.wl > 2.9 && datum.wl < 3.2"}],
    "mark": {"type": "point", "shape": "square", "filled": true, "size": 10, "color": "#1a1ac8", "opacity": 1},
    "encoding": {
     "x": {"field": "wl", "type": "quantitative", "axis": null},
     "y": {"field": "r", "type": "quantitative", "axis": null}
    }
   }
  ]
 },
 {
  "width": 460, "height": 256,
  "layer": [
   {
    "data": {"name": "h2o"},
    "mark": {"type": "line", "strokeWidth": 1.3, "clip": true},
    "encoding": {
     "x": {"field": "wl", "type": "quantitative", "scale": {"domain": [2.9, 3.2], "nice": false, "zero": false},
      "axis": {"orient": "bottom", "values": [2.91,2.925,2.94,2.955,2.97,2.985,3.0,3.015,3.03,3.045,3.06,3.075,3.09,3.105,3.12,3.135,3.15,3.165,3.18,3.195], "labelExpr": "round(datum.value*1000) % 30 == 0 ? format(datum.value, '.2f') : ''", "title": "wavelength [μm]", "labelPadding": 11, "titlePadding": 12}},
     "y": {"field": "r", "type": "quantitative", "scale": {"domain": [0.946, 1.025], "nice": false, "zero": false},
      "axis": {"orient": "left", "values": [0.95,0.96,0.97,0.98,0.99,1.0,1.01,1.02], "labelExpr": "round(datum.value*100) % 2 == 0 ? format(datum.value, '.2f') : ''", "title": "relative reflectance", "labelPadding": 19, "titlePadding": 13.5}},
     "color": {"datum": "crystalline H₂O", "type": "nominal",
      "scale": {"domain": ["crystalline H₂O", "ratio of spectra 04/05"], "range": ["#1a1acc", "#000000"]},
      "legend": {"orient": "none", "legendX": 302, "legendY": 9.2, "title": null, "labelFontSize": 13.5, "symbolSize": 100, "labelOffset": 14, "rowPadding": -2, "padding": 0,
       "encode": {"symbols": {"update": {
        "shape": {"signal": "datum.value === 'ratio of spectra 04/05' ? 'M-3.4,0H-3.1M-2.7,0H-2.4M-2,0H-1.7M-1.3,0H-1M1,0H1.3M1.7,0H2M2.4,0H2.7M3.1,0H3.4M-0.45,0A0.45,0.45,0,1,1,0.45,0A0.45,0.45,0,1,1,-0.45,0Z' : 'M-3.1,0H3.1'"},
        "fill": {"signal": "datum.value === 'ratio of spectra 04/05' ? '#000000' : 'transparent'"},
        "stroke": {"signal": "datum.value === 'ratio of spectra 04/05' ? '#000000' : '#1a1acc'"},
        "strokeWidth": {"value": 1.2},
        "strokeDash": {"value": [1, 0]}
       }}}}}
    }
   },
   {
    "data": {"name": "ratio"},
    "mark": {"type": "line", "color": "#111111", "strokeWidth": 1, "strokeDash": [1.2, 2], "clip": true},
    "encoding": {
     "x": {"field": "wl", "type": "quantitative", "axis": {"orient": "top", "values": [2.91,2.925,2.94,2.955,2.97,2.985,3.0,3.015,3.03,3.045,3.06,3.075,3.09,3.105,3.12,3.135,3.15,3.165,3.18,3.195], "labels": false, "title": null}},
     "y": {"field": "r", "type": "quantitative", "axis": {"orient": "right", "values": [0.95,0.96,0.97,0.98,0.99,1.0,1.01,1.02], "labels": false, "title": null}}
    }
   },
   {
    "data": {"name": "ratio"},
    "mark": {"type": "point", "filled": true, "size": 14, "color": "#000000", "opacity": 1, "clip": true},
    "encoding": {
     "x": {"field": "wl", "type": "quantitative", "axis": null},
     "y": {"field": "r", "type": "quantitative", "axis": null}
    }
   }
  ]
 }
]
}
